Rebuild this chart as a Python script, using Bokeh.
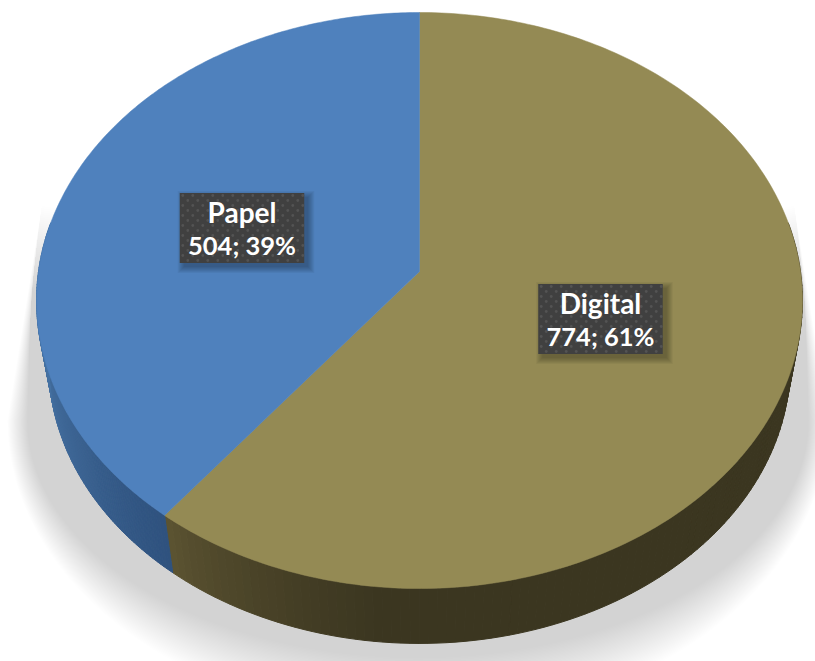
import numpy as np
from bokeh.core.properties import value
from bokeh.embed import file_html
from bokeh.models import Range1d
from bokeh.plotting import figure
from bokeh.resources import INLINE

# Chart data, listed clockwise from twelve o'clock
categories = ["Digital", "Papel"]
counts = [774, 504]

# Styling per slice
face_colors = ["#948a54", "#4f81bd"]
wall_light = [(95, 86, 51), (70, 114, 163)]
wall_dark = [(59, 54, 32), (47, 82, 126)]
label_centers = [(600, 318.5), (241.5, 227.5)]

WIDTH, HEIGHT = 815, 661

# Perspective of the tilted disc in page pixels
APEX_X, APEX_Y = 419.0, 271.0
DISC_X, DISC_Y, DISC_W = 381.0, 257.8, -0.1007
VANISH_Y, DEPTH_SCALE = 2294.0, 0.9678


def rim(theta):
    u, v = np.sin(theta), -np.cos(theta)
    w = 1 + DISC_W * v
    return APEX_X + DISC_X * u / w, (DISC_Y * v + APEX_Y) / w


def lower_rim(theta):
    x, y = rim(theta)
    return APEX_X + (x - APEX_X) * DEPTH_SCALE, VANISH_Y + (y - VANISH_Y) * DEPTH_SCALE


p = figure(width=WIDTH, height=HEIGHT, output_backend="svg", toolbar_location=None,
           x_range=Range1d(0, WIDTH), y_range=Range1d(HEIGHT, 0), min_border=0)
p.axis.visible = False
p.grid.visible = False
p.outline_line_color = None
p.background_fill_color = "white"
p.border_fill_color = "white"

# Cast shadow: a rounded lower half with straight flanks rising behind the disc.
# Stacked translucent layers soften the lower edge and fade the top of the flanks.
layers = 44
half_turn = np.linspace(0, np.pi, 160)
SHADOW_X, SHADOW_Y = 417.5, 420.0
for i in range(layers):
    t = i / (layers - 1)
    ax = 411 - 20 * t
    by = 300 - 62 * t
    top = 205 + 85 * t
    inset = (SHADOW_Y - top) * 0.125
    xs = SHADOW_X + ax * np.cos(half_turn)
    ys = SHADOW_Y + by * np.sin(half_turn)
    left_top = SHADOW_X - 403.5 + inset
    right_top = SHADOW_X + 403.5 - inset
    p.patch(np.r_[xs, left_top, SHADOW_X, right_top], np.r_[ys, top, top + 60, top],
            fill_color="#000000", fill_alpha=0.0055, line_color=None)

# Slice angles follow from the counts
total = sum(counts)
edges = np.concatenate([[0], np.cumsum(counts)]) / total * 2 * np.pi

# Side wall, split into narrow quads so its shade can vary along the rim
for k in range(len(counts)):
    lo, hi = max(edges[k], np.radians(80)), min(edges[k + 1], np.radians(280))
    stops = np.linspace(lo, hi, 110)
    for a, b in zip(stops[:-1], stops[1:]):
        xa, ya = rim(a)
        xb, yb = rim(b)
        xc, yc = lower_rim(b)
        xd, yd = lower_rim(a)
        if k == 0:
            shade = np.clip((np.degrees(edges[1]) - np.degrees(a)) / 33, 0, 1) ** 0.7
        else:
            shade = np.clip(1 - (np.degrees(a) - np.degrees(edges[1])) / 42, 0, 1)
        r, g, bl = [int(round(l + (d - l) * shade)) for l, d in zip(wall_light[k], wall_dark[k])]
        color = f"#{r:02x}{g:02x}{bl:02x}"
        p.patch([xa, xb, xc, xd], [ya, yb, yc, yd], fill_color=color, line_color=color, line_width=1)

# Top faces of the slices
for k in range(len(counts)):
    arc = np.linspace(edges[k], edges[k + 1], 240)
    x, y = rim(arc)
    p.patch(np.r_[APEX_X, x], np.r_[APEX_Y, y], fill_color=face_colors[k],
            line_color=face_colors[k], line_width=0.5)

# Data labels: dark dotted plate with a soft drop shadow
BOX_W, BOX_H = 124.5, 70
for k, (name, count) in enumerate(zip(categories, counts)):
    mx, my = label_centers[k]
    for grow in range(6, -1, -1):
        p.quad(left=mx - BOX_W / 2 + 4 - grow, right=mx + BOX_W / 2 + 4 + grow,
               top=my - BOX_H / 2 + 4 - grow, bottom=my + BOX_H / 2 + 4 + grow,
               fill_color="#000000", fill_alpha=0.045, line_color=None)
    p.quad(left=mx - BOX_W / 2, right=mx + BOX_W / 2, top=my - BOX_H / 2, bottom=my + BOX_H / 2,
           fill_color="#404040", line_color=None)
    gx, gy = [], []
    for row, yy in enumerate(np.arange(my - BOX_H / 2 + 2.5, my + BOX_H / 2, 5)):
        for xx in np.arange(mx - BOX_W / 2 + 3 + (row % 2) * 5, mx + BOX_W / 2, 10):
            gx.append(xx)
            gy.append(yy)
    p.scatter(gx, gy, size=2.8, marker="circle", fill_color="#535353", line_color=None)
    share = round(count / total * 100)
    p.text([mx], [my - 16], text=[name], text_font=value("Lato"), text_font_style="bold",
           text_font_size="28px", text_color="#ffffff", text_align="center", text_baseline="middle")
    p.text([mx], [my + 17], text=[f"{count}; {share}%"], text_font=value("Lato"), text_font_style="bold",
           text_font_size="25.5px", text_color="#ffffff", text_align="center", text_baseline="middle")

open("out.html", "w").write(file_html(p, INLINE))
